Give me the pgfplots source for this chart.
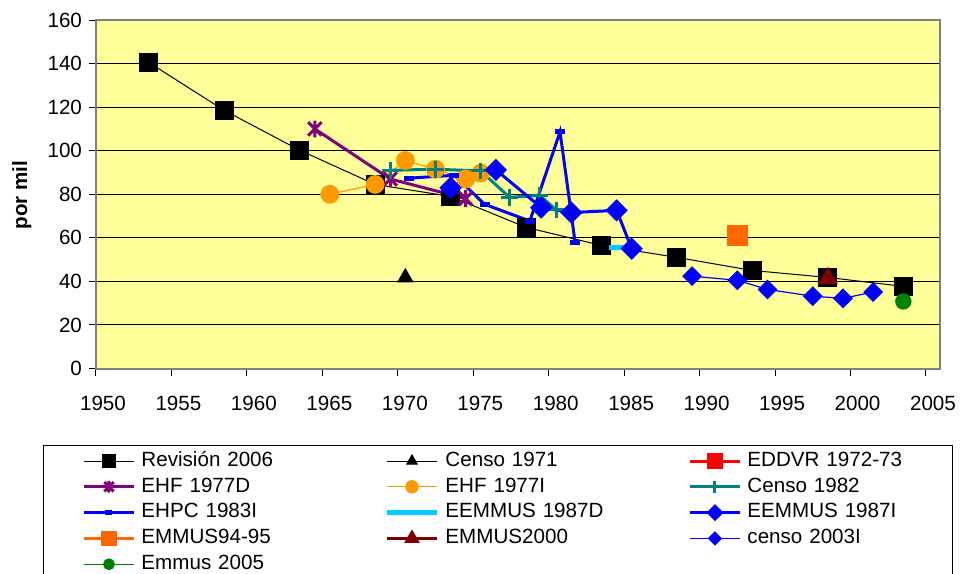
\documentclass[border=0pt]{standalone}
\usepackage{fontspec}
\setmainfont{Liberation Sans}
\usepackage{pgfplots}
\pgfplotsset{compat=1.18}

\definecolor{bgyellow}{HTML}{FFFF99}
\definecolor{axgray}{HTML}{808080}
\definecolor{cpurple}{HTML}{800080}
\definecolor{corange}{HTML}{FF9900}
\definecolor{cteal}{HTML}{008080}
\definecolor{ccyan}{HTML}{00CCFF}
\definecolor{corange2}{HTML}{FF6600}
\definecolor{cmaroon}{HTML}{800000}
\definecolor{cgreen}{HTML}{008000}

% excel style asterisk: vertical bar plus an x
\pgfdeclareplotmark{xast}{%
  \pgfpathmoveto{\pgfqpoint{0pt}{\pgfplotmarksize}}%
  \pgfpathlineto{\pgfqpoint{0pt}{-\pgfplotmarksize}}%
  \pgfpathmoveto{\pgfqpoint{-0.8\pgfplotmarksize}{0.8\pgfplotmarksize}}%
  \pgfpathlineto{\pgfqpoint{0.8\pgfplotmarksize}{-0.8\pgfplotmarksize}}%
  \pgfpathmoveto{\pgfqpoint{-0.8\pgfplotmarksize}{-0.8\pgfplotmarksize}}%
  \pgfpathlineto{\pgfqpoint{0.8\pgfplotmarksize}{0.8\pgfplotmarksize}}%
  \pgfusepathqstroke}

\newcommand{\lblfont}{\fontsize{10.3}{12}\selectfont}

\begin{document}
\begin{tikzpicture}
\begin{axis}[
  scale only axis, width=422pt, height=174.25pt,
  at={(0pt,0pt)}, anchor=south west,
  xmin=1950, xmax=2005.93, ymin=0, ymax=160,
  xtick={1950,1955,...,2005}, ytick={0,20,...,160},
  axis background/.style={fill=bgyellow},
  axis line style={draw=axgray, line width=1pt},
  ymajorgrids, major grid style={black, line width=0.5pt},
  tick align=outside, major tick length=3.5pt,
  tick style={black, line width=0.5pt},
  xtick pos=bottom, ytick pos=left,
  tick label style={font=\lblfont},
  /pgf/number format/assume math mode=true,
  /pgf/number format/1000 sep={},
  scaled ticks=false,
  xticklabel style={xshift=3.5pt, yshift=-7pt},
  ylabel={por mil},
  every axis y label/.style={at={(axis description cs:-0.088,0.498)}, rotate=90, anchor=center, font=\bfseries\lblfont},
  legend columns=3,
  legend style={
    at={(axis description cs:-0.0628,-0.219)}, anchor=north west,
    draw=black, line width=0.5pt, fill=white,
    inner xsep=19.5pt, inner ysep=2pt,
    /tikz/every even column/.append style={column sep=38.5pt},
    row sep=1.2pt,
    nodes={text width=80pt, text height=7.5pt, text depth=2.2pt, inner xsep=3pt, inner ysep=1pt, align=left, font=\lblfont},
  },
  legend image code/.code={\draw[mark repeat=2,mark phase=2,#1] plot coordinates {(0pt,0pt)(12.5pt,0pt)(25pt,0pt)};},
  legend image post style={/tikz/every mark/.append style={scale=0.7}},
]
\addplot[black, line width=0.5pt, mark=square*, mark size=4.5pt] coordinates {
  (1953.5,140.5)(1958.5,118.5)(1963.5,100.2)(1968.5,84.5)(1973.5,79)(1978.5,64.8)
  (1983.5,56.5)(1988.5,51)(1993.5,45)(1998.5,41.8)(2003.5,37.7)};
\addlegendentry{Revisión 2006}
\addplot[black, line width=0.5pt, mark=triangle*, mark size=4.3pt] coordinates {(1970.5,41.8)};
\addlegendentry{Censo 1971}
\addlegendimage{red, line width=1.5pt, mark=square*, mark size=4.5pt}
\addlegendentry{EDDVR 1972-73}
\addplot[cpurple, line width=1.5pt, mark=xast, mark size=4.2pt] coordinates {
  (1964.5,110)(1969.5,87)(1974.5,78)};
\addlegendentry{EHF 1977D}
\addplot[corange, line width=0.6pt, mark=*, mark size=4.4pt] coordinates {
  (1965.5,80)(1968.5,84.5)(1970.5,95.5)(1972.5,91.5)(1974.5,87)(1975.5,89.7)};
\addlegendentry{EHF 1977I}
\addplot[cteal, line width=1.5pt, mark=+, mark size=4.2pt] coordinates {
  (1969.5,91)(1972.5,91.5)(1975.5,90.7)(1977.4,78.6)(1979.4,79.5)(1980.5,72.8)};
\addlegendentry{Censo 1982}
\addplot[blue, line width=1.5pt, mark=-, mark size=2.5pt, mark options={line width=2.5pt}] coordinates {
  (1970.75,87.4)(1973.75,88.7)(1975.75,75.4)(1978.75,67.7)(1980.75,108.7)(1981.75,57.8)};
\addlegendentry{EHPC 1983I}
\addplot[ccyan, line width=2.5pt, mark=-, mark size=2.5pt, mark options={line width=2.5pt}] coordinates {
  (1984.3,55.6)(1985.5,55.6)};
\addlegendentry{EEMMUS 1987D}
\addplot[blue, line width=1.5pt, mark=square*, mark size=3.2pt, mark options={rotate=45}] coordinates {
  (1973.5,83)(1976.5,91.2)(1979.5,73.9)(1981.5,71.6)(1984.5,72.6)(1985.5,55)};
\addlegendentry{EEMMUS 1987I}
\addplot[corange2, line width=1.5pt, mark=square*, mark size=4.5pt] coordinates {(1992.5,61.1)};
\addlegendentry{EMMUS94-95}
\addplot[cmaroon, line width=1.5pt, mark=triangle*, mark size=4.3pt] coordinates {(1998.5,41.4)};
\addlegendentry{EMMUS2000}
\addplot[blue, line width=0.6pt, mark=square*, mark size=3.2pt, mark options={rotate=45}] coordinates {
  (1989.5,42.4)(1992.5,40.5)(1994.5,36.3)(1997.5,33.2)(1999.5,32.2)(2001.5,35.1)};
\addlegendentry{censo 2003I}
\addplot[cgreen, line width=0.6pt, mark=*, mark size=3.8pt] coordinates {(2003.5,30.8)};
\addlegendentry{Emmus 2005}
\end{axis}
\pgfresetboundingbox
\path[use as bounding box] (-48pt,-102.25pt) rectangle (433.5pt,184.25pt);
\end{tikzpicture}
\end{document}
